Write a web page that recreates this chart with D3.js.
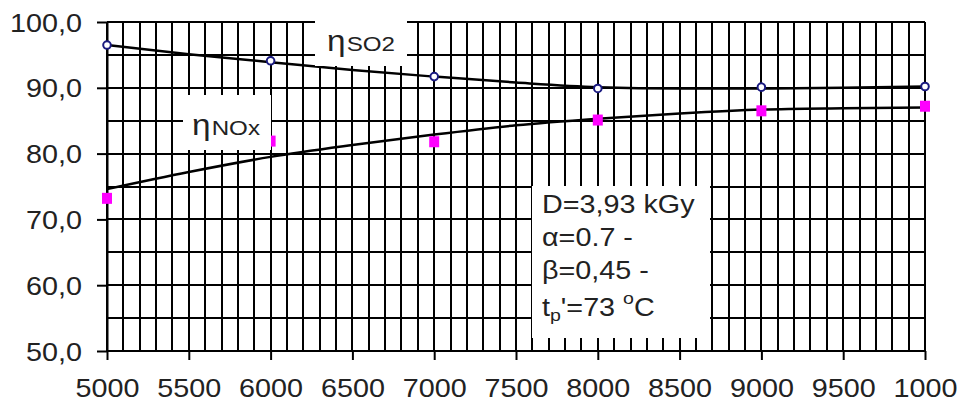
<!DOCTYPE html>
<html>
<head>
<meta charset="utf-8">
<script src="https://cdn.jsdelivr.net/npm/d3@7"></script>
<style>
  body { margin: 0; background: #fff; }
  text { font-family: "Liberation Sans", Arial, sans-serif; fill: #222; }
</style>
</head>
<body>
<div id="chart"></div>
<script>
const w = 961;
const h = 403;

// data
const doses = [5000, 6000, 7000, 8000, 9000, 10000];
const etaSO2 = [96.5, 94.1, 91.7, 89.9, 90.1, 90.2];
const etaNOx = [73.2, 81.9, 81.8, 85.1, 86.5, 87.2];

// trend lines (read at every 500)
const trendX = [5000, 5500, 6000, 6500, 7000, 7500, 8000, 8500, 9000, 9500, 10000];
const trendSO2 = [96.5, 95.1, 93.9, 92.7, 91.7, 90.8, 90.1, 89.9, 89.9, 90.0, 90.2];
const trendNOx = [74.6, 77.2, 79.5, 81.3, 82.9, 84.3, 85.3, 86.1, 86.7, 86.9, 87.0];

// axis ticks
const xTicks = [5000, 5500, 6000, 6500, 7000, 7500, 8000, 8500, 9000, 9500, 10000];
const xTickLabels = ["5000", "5500", "6000", "6500", "7000", "7500", "8000", "8500", "9000", "9500", "1000"];
const yTicks = [50, 60, 70, 80, 90, 100];
const yTickLabels = ["50,0", "60,0", "70,0", "80,0", "90,0", "100,0"];

const plotL = 107, plotR = 925, plotT = 22, plotB = 351;
const stretch = 1.15;

const svg = d3.select("#chart")
    .append("svg")
    .attr("width", w)
    .attr("height", h)

const x = d3.scaleLinear().domain([5000, 10000]).range([plotL, plotR]);
const y = d3.scaleLinear().domain([50, 100]).range([plotB, plotT]);

// grid: vertical every 100, horizontal every 5
const grid = svg.append("g")
    .attr("stroke", "#000")
    .attr("stroke-width", 2)
    .attr("shape-rendering", "crispEdges")

grid.selectAll(".vline")
    .data(d3.range(5000, 10001, 100))
    .join("line")
    .attr("class", "vline")
    .attr("x1", d => Math.round(x(d))).attr("x2", d => Math.round(x(d)))
    .attr("y1", plotT).attr("y2", plotB)

grid.selectAll(".hline")
    .data(d3.range(50, 101, 5))
    .join("line")
    .attr("class", "hline")
    .attr("x1", plotL).attr("x2", plotR)
    .attr("y1", d => Math.round(y(d))).attr("y2", d => Math.round(y(d)))

// axes
const xAxis = d3.axisBottom(x)
    .tickValues(xTicks)
    .tickSize(9)
    .tickSizeOuter(0)
    .tickFormat((d, i) => xTickLabels[i])

svg.append("g")
    .attr("transform", `translate(0,${plotB})`)
    .call(xAxis)
    .call(g => g.select(".domain").remove())
    .call(g => g.selectAll(".tick line").attr("stroke", "#000").attr("stroke-width", 2))
    .call(g => g.selectAll(".tick text")
        .attr("y", null).attr("dy", null)
        .attr("transform", `translate(0,46) scale(${stretch},1)`)
        .attr("font-size", 25)
        .attr("fill", "#222")
        .attr("font-family", "Liberation Sans, Arial, sans-serif"))

const yAxis = d3.axisLeft(y)
    .tickValues(yTicks)
    .tickSize(10)
    .tickSizeOuter(0)
    .tickFormat((d, i) => yTickLabels[i])

svg.append("g")
    .attr("transform", `translate(${plotL},0)`)
    .call(yAxis)
    .call(g => g.select(".domain").attr("stroke", "#000").attr("stroke-width", 2))
    .call(g => g.selectAll(".tick line").attr("stroke", "#000").attr("stroke-width", 2))
    .call(g => g.selectAll(".tick text")
        .attr("x", null).attr("dy", null)
        .attr("transform", `translate(-25,9) scale(${stretch},1)`)
        .attr("font-size", 25)
        .attr("fill", "#222")
        .attr("font-family", "Liberation Sans, Arial, sans-serif"))

// trend lines
const line = d3.line()
    .x((d, i) => x(trendX[i]))
    .y(d => y(d))
    .curve(d3.curveMonotoneX)

svg.append("path")
    .attr("d", line(trendSO2))
    .attr("fill", "none")
    .attr("stroke", "#000")
    .attr("stroke-width", 2.5)

svg.append("path")
    .attr("d", line(trendNOx))
    .attr("fill", "none")
    .attr("stroke", "#000")
    .attr("stroke-width", 2.5)

// markers
svg.selectAll(".so2")
    .data(etaSO2)
    .join("circle")
    .attr("class", "so2")
    .attr("cx", (d, i) => x(doses[i]))
    .attr("cy", d => y(d))
    .attr("r", 3.8)
    .attr("fill", "#fff")
    .attr("stroke", "#1a1a80")
    .attr("stroke-width", 2)

svg.selectAll(".nox")
    .data(etaNOx)
    .join("rect")
    .attr("class", "nox")
    .attr("x", (d, i) => x(doses[i]) - 5)
    .attr("y", d => y(d) - 5.5)
    .attr("width", 10)
    .attr("height", 11)
    .attr("fill", "#ff00ff")

// white label boxes (they hide the grid)
const boxes = [
    { x0: 315, y0: 13, x1: 407, y1: 66 },
    { x0: 183, y0: 95, x1: 271, y1: 150 },
    { x0: 532, y0: 186, x1: 710, y1: 338 }
];
svg.selectAll(".box")
    .data(boxes)
    .join("rect")
    .attr("class", "box")
    .attr("x", d => d.x0).attr("y", d => d.y0)
    .attr("width", d => d.x1 - d.x0).attr("height", d => d.y1 - d.y0)
    .attr("fill", "#fff")

// eta labels
function etaLabel(px, py, sub) {
    const t = svg.append("text")
        .attr("transform", `translate(${px},${py}) scale(${stretch},1)`)
    t.append("tspan").attr("font-size", 29).text("η")
    t.append("tspan").attr("font-size", 21).attr("dx", 1).text(sub)
}
etaLabel(327, 51, "SO2")
etaLabel(192, 135, "NOx")

// parameter box
const px = 542;
const p1 = svg.append("text").attr("font-size", 25)
    .attr("transform", `translate(${px},213) scale(${stretch},1)`)
    .text("D=3,93 kGy")
const p2 = svg.append("text").attr("font-size", 25)
    .attr("transform", `translate(${px},246) scale(${stretch},1)`)
    .text("α=0.7 -")
const p3 = svg.append("text").attr("font-size", 25)
    .attr("transform", `translate(${px},279) scale(${stretch},1)`)
    .text("β=0,45 -")
const p4 = svg.append("text").attr("font-size", 25)
    .attr("transform", `translate(${px},316) scale(${stretch},1)`)
p4.append("tspan").text("t")
p4.append("tspan").attr("font-size", 17).attr("dy", 5).text("p")
p4.append("tspan").attr("dy", -5).text("'=73 ")
p4.append("tspan").attr("font-size", 17).attr("dy", -12).text("o")
p4.append("tspan").attr("dy", 12).text("C")
</script>
</body>
</html>
